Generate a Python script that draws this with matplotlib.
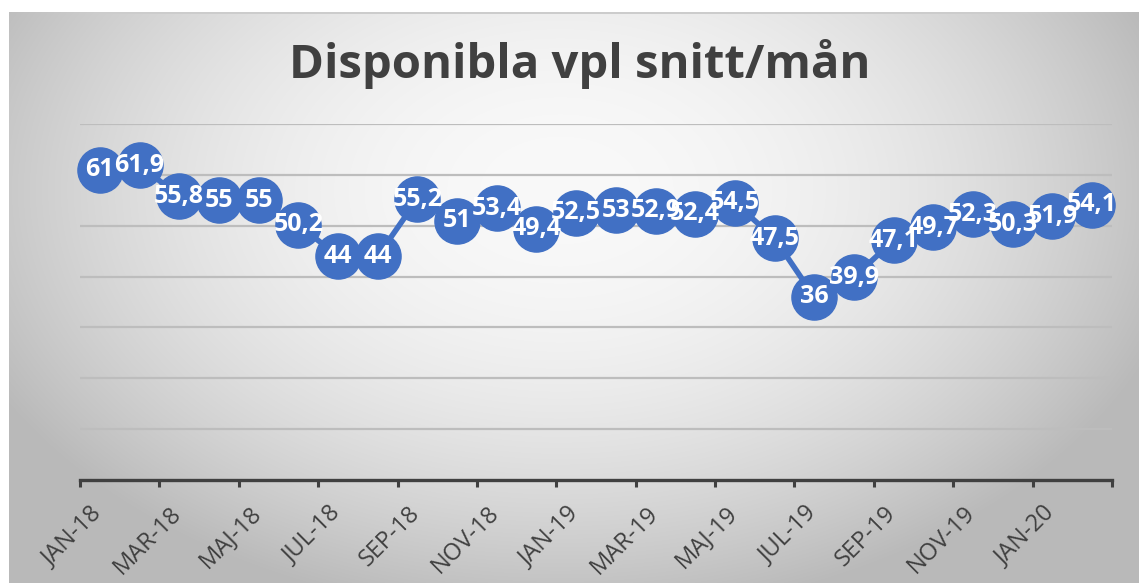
import numpy as np
import matplotlib
matplotlib.use("Agg")
import matplotlib.pyplot as plt

# ---- data ----
months = ["JAN-18", "FEB-18", "MAR-18", "APR-18", "MAJ-18", "JUN-18", "JUL-18", "AUG-18",
          "SEP-18", "OKT-18", "NOV-18", "DEC-18", "JAN-19", "FEB-19", "MAR-19", "APR-19",
          "MAJ-19", "JUN-19", "JUL-19", "AUG-19", "SEP-19", "OKT-19", "NOV-19", "DEC-19",
          "JAN-20", "FEB-20"]
values = [61, 61.9, 55.8, 55, 55, 50.2, 44, 44, 55.2, 51, 53.4, 49.4, 52.5, 53, 52.9, 52.4,
          54.5, 47.5, 36, 39.9, 47.1, 49.7, 52.3, 50.3, 51.9, 54.1]
title = "Disponibla vpl snitt/mån"

W, H = 1139, 583
fig = plt.figure(figsize=(W / 100, H / 100), dpi=100)

# background gradient (chart area)
bg = fig.add_axes([0, 0, 1, 1], zorder=-10)
yy, xx = np.mgrid[0:H, 0:W]
d2 = ((xx - 560) / 640.0) ** 2 + ((yy - 190) / 430.0) ** 2
g = np.clip(249 - 64 * d2, 185, 250) / 255.0
img = np.dstack([g, g, g])
img[:12, :, :] = 1.0
img[:, :9, :] = 1.0
img[12:14, 9:, :] = np.minimum(img[12:14, 9:, :], 0.80)
bg.imshow(img, extent=(0, W, H, 0), aspect="auto", interpolation="bilinear")
bg.set_xlim(0, W)
bg.set_ylim(H, 0)
bg.axis("off")

# main axes
left, right = 80, 1112
bottom, top = 480, 124
ax = fig.add_axes([left / W, 1 - bottom / H, (right - left) / W, (bottom - top) / H])
ax.patch.set_alpha(0)

x = np.arange(len(values))
blue = "#4170c4"
ax.plot(x, values, color=blue, lw=4, marker="o", ms=32.5, mfc=blue, mec=blue,
        clip_on=False, zorder=3)

def fmt(v):
    if float(v).is_integer():
        return str(int(v))
    return ("%g" % v).replace(".", ",")

for xi, v in zip(x, values):
    ax.text(xi, v, fmt(v), ha="center", va="center", color="white",
            fontsize=18, fontweight="bold", family="Open Sans", zorder=4)

ax.set_xlim(-0.5, len(values) - 0.5)
ax.set_ylim(0, 70)
ax.set_yticks(np.arange(10, 71, 10))
ax.yaxis.grid(True, color="#bdbdbd", lw=1.6)
ax.set_axisbelow(True)
ax.tick_params(axis="y", length=0, labelleft=False)

ax.set_xticks(np.arange(-0.5, len(values), 2))
ax.set_xticklabels([])
ax.tick_params(axis="x", length=5, width=2.2, color="#404040", direction="out")

for s in ["top", "right", "left"]:
    ax.spines[s].set_visible(False)
ax.spines["bottom"].set_color("#404040")
ax.spines["bottom"].set_linewidth(2.4)

for i in range(0, len(months), 2):
    ax.annotate(months[i], xy=(i, 0), xycoords=("data", "axes fraction"),
                xytext=(-1, -30), textcoords="offset pixels",
                rotation=45, rotation_mode="anchor", ha="right", va="center",
                fontsize=17, color="#404040", family="Open Sans")

fig.text(580 / W, 1 - 64 / H, title, ha="center", va="center", fontsize=34,
         fontweight="bold", color="#404040", family="Open Sans")

fig.savefig("out.png", dpi=100)
